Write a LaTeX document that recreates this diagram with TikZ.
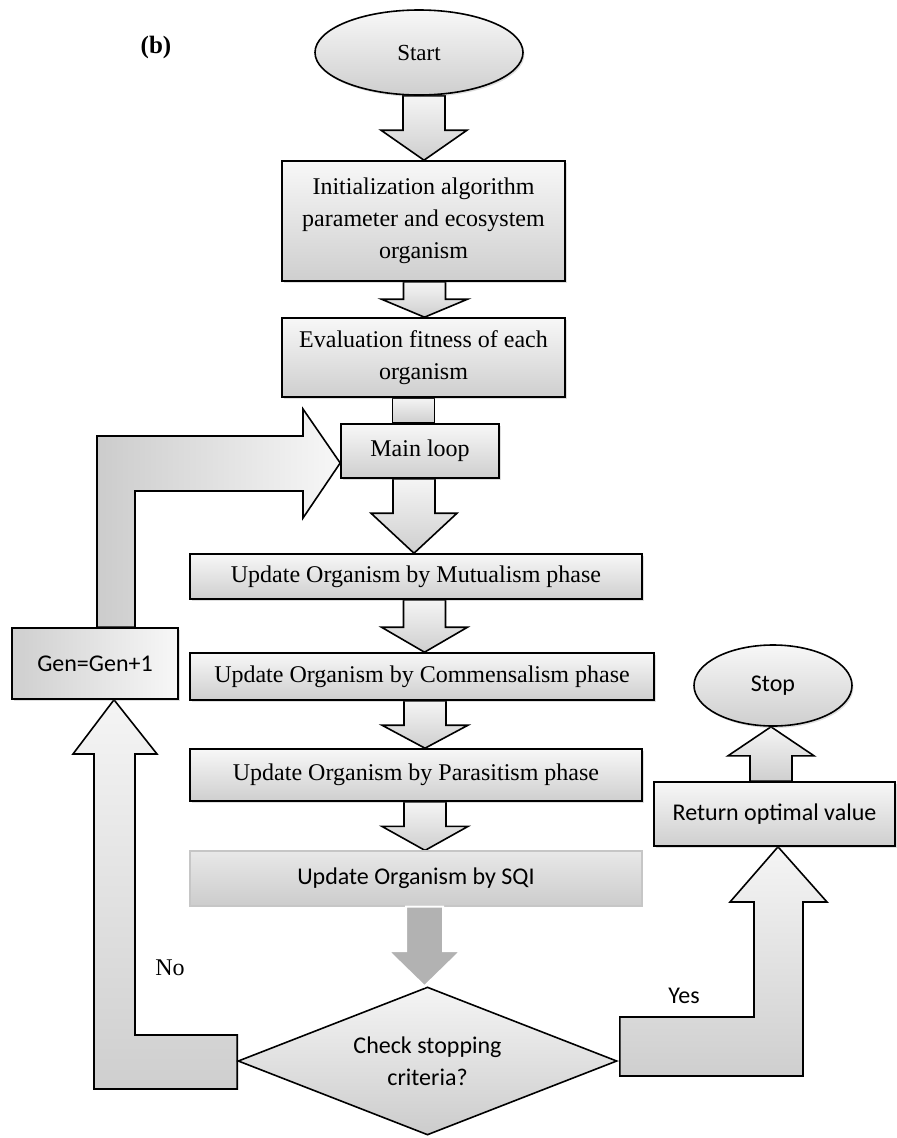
\documentclass[tikz,border=0pt]{standalone}
\usepackage{fontspec}
\setmainfont{Liberation Serif}
\setsansfont{Carlito}
\usetikzlibrary{shapes.geometric, calc, shadows, backgrounds}

\tikzset{
  base/.style={line width=1.6pt, inner sep=0pt, align=center,
    font=\fontsize{24}{32}\selectfont},
  box/.style={base, draw, rectangle, top color=gray!6, bottom color=gray!38,
    drop shadow={shadow xshift=1.5pt, shadow yshift=-2pt, opacity=0.25}},
  sidebox/.style={box, font=\sffamily\fontsize{24}{32}\selectfont},
  flatbox/.style={base, draw=gray!45, line width=1.2pt, rectangle,
    top color=gray!18, bottom color=gray!40,
    font=\sffamily\fontsize{24}{32}\selectfont},
  term/.style={box, ellipse},
  check/.style={base, draw, diamond, aspect=2.5, top color=gray!8,
    bottom color=gray!40, font=\sffamily\fontsize{24}{32}\selectfont},
  bigarrow/.style={draw, line width=1.6pt, line join=miter,
    top color=gray!8, bottom color=gray!38},
  tag/.style={font=\fontsize{24}{28}\selectfont},
}

% block arrow pointing down: x centre, from, to, head length
\newcommand{\flowarrow}[4]{%
  \filldraw[bigarrow] let \p1=(#2.south), \p2=(#3.north) in
    (#1pt-21pt,\y1) -- (#1pt-21pt,\y2+#4pt) -- (#1pt-43pt,\y2+#4pt)
    -- (#1pt,\y2) -- (#1pt+43pt,\y2+#4pt) -- (#1pt+21pt,\y2+#4pt)
    -- (#1pt+21pt,\y1) -- cycle;}

\begin{document}
\begin{tikzpicture}[x=1pt, y=-1pt]
    \useasboundingbox (0,0) rectangle (897,1138);

    % main column
    \node[term, minimum width=208pt, minimum height=85pt,
      font=\fontsize{23}{28}\selectfont] (start) at (419,52.5) {Start};
    \node[box, minimum width=283pt, minimum height=120pt] (init) at (423.5,221)
      {Initialization algorithm\\parameter and ecosystem\\organism};
    \node[box, minimum width=283pt, minimum height=79pt] (eval) at (423.5,357.5)
      {Evaluation fitness of each\\organism};
    \node[box, minimum width=158pt, minimum height=54pt] (main) at (420,451) {Main loop};
    \node[box, minimum width=452pt, minimum height=45pt] (mut) at (416,576.5)
      {Update Organism by Mutualism phase};
    \node[box, minimum width=464pt, minimum height=47pt] (comm) at (422,676.5)
      {Update Organism by Commensalism phase};
    \node[box, minimum width=452pt, minimum height=52pt] (para) at (416,775)
      {Update Organism by Parasitism phase};
    \node[flatbox, minimum width=452pt, minimum height=55pt] (sqi) at (416,878.5)
      {Update Organism by SQI};
    \node[check, minimum width=379pt, minimum height=148pt] (check) at (427.5,1061)
      {Check stopping\\criteria?};

    % side boxes
    \node[sidebox, left color=gray!38, right color=gray!6,
      minimum width=166pt, minimum height=71pt] (gen) at (95,663.5) {Gen=Gen+1};
    \node[sidebox, minimum width=241pt, minimum height=64pt] (ret) at (774.5,814)
      {Return optimal value};
    \node[term, minimum width=158pt, minimum height=81pt,
      font=\sffamily\fontsize{24}{32}\selectfont] (stop) at (773,685.5) {Stop};

    % labels
    \node[font=\bfseries\fontsize{25}{30}\selectfont] (panel) at (156,47) {(b)};
    \node[tag] (no) at (170,968) {No};
    \node[tag, font=\sffamily\fontsize{24}{28}\selectfont] (yes) at (684,996) {Yes};

    \begin{scope}[on background layer]
    \flowarrow{424}{start}{init}{30}
    \flowarrow{424.5}{init}{eval}{18}
    \filldraw[bigarrow] let \p1=(eval.south), \p2=(main.north) in
        (392.5pt,\y1) rectangle (434.5pt,\y2);
    \flowarrow{414}{main}{mut}{40}
    \flowarrow{424.5}{mut}{comm}{25}
    \flowarrow{425}{comm}{para}{23}
    \flowarrow{425}{para}{sqi}{24}

    % Stop <- Return
    \filldraw[bigarrow] let \p1=(ret.north), \p2=(stop.south) in
        (750pt,\y1) -- (750pt,\y2-29pt) -- (728pt,\y2-29pt) -- (771pt,\y2)
        -- (814pt,\y2-29pt) -- (792pt,\y2-29pt) -- (792pt,\y1) -- cycle;

    % loop back to main
    \filldraw[bigarrow, left color=gray!40, right color=gray!6]
      let \p1=(gen.north), \p2=(main.west) in
        (\x1+2pt,\y1) -- (\x1+2pt,-436pt) -- (303pt,-436pt) -- (303pt,-409pt)
        -- (\x2,-463pt) -- (303pt,-518pt) -- (303pt,-491pt)
        -- (\x1+40pt,-491pt) -- (\x1+40pt,\y1) -- cycle;

    % No
    \filldraw[bigarrow] let \p1=(check.west), \p2=(gen.south) in
        (\x1,\y1+26pt) -- (135pt,\y1+26pt) -- (135pt,-754pt) -- (157pt,-754pt)
        -- (114pt,\y2) -- (73pt,-754pt) -- (94pt,-754pt)
        -- (94pt,\y1-28pt) -- (\x1,\y1-28pt) -- cycle;

    % Yes
    \filldraw[bigarrow] let \p1=(check.east), \p2=(ret.south) in
        (\x1+2pt,\y1+44pt) -- (754pt,\y1+44pt) -- (754pt,-902pt) -- (730pt,-902pt)
        -- (778pt,\y2) -- (827pt,-902pt) -- (803pt,-902pt)
        -- (803pt,\y1-15pt) -- (\x1+2pt,\y1-15pt) -- cycle;
    \end{scope}

    % SQI -> check
    \filldraw[fill=gray!60, draw=white, line width=2pt]
      let \p1=(sqi.south), \p2=(check.north) in
        (406pt,\y1) -- (406pt,\y2+35pt) -- (388.5pt,\y2+35pt) -- (424.5pt,\y2)
        -- (460.5pt,\y2+35pt) -- (443pt,\y2+35pt) -- (443pt,\y1) -- cycle;
\end{tikzpicture}
\end{document}
